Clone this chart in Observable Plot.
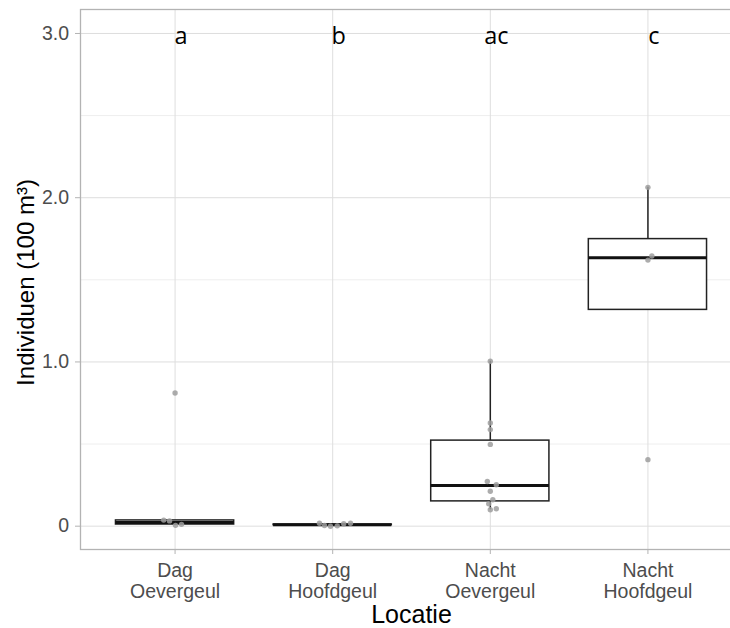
<!DOCTYPE html>
<html><head><meta charset="utf-8">
<script src="https://cdn.jsdelivr.net/npm/d3@7"></script>
<script src="https://cdn.jsdelivr.net/npm/@observablehq/plot@0.6"></script>
<style>html,body{margin:0;padding:0;overflow:hidden;background:#fff} svg{max-width:none !important;}</style>
</head><body><div id="chart"></div>
<script>
// Categories (x axis)
const categories = ["Dag\nOevergeul", "Dag\nHoofdgeul", "Nacht\nOevergeul", "Nacht\nHoofdgeul"];
// Significance letters
const letters = ["a", "b", "ac", "c"];
const letterY = 3.0;
// Box summary per category
const q1 = [0.010, 0.006, 0.151, 1.317];
const median = [0.022, 0.008, 0.248, 1.634];
const q3 = [0.035, 0.010, 0.521, 1.748];
const whiskerLow = [0.005, 0.006, 0.100, 1.317];
const whiskerHigh = [0.035, 0.010, 1.004, 2.063];
// Individual observations (jittered in original)
const pointGroup = [1,1,1,1,1, 2,2,2,2,2,2, 3,3,3,3,3,3,3,3,3,3,3, 4,4,4,4];
const pointValue = [0.811,0.037,0.032,0.005,0.011,
  0.018,0.004,0.000,0.002,0.015,0.018,
  1.004,0.628,0.588,0.498,0.272,0.252,0.213,0.161,0.136,0.100,0.106,
  2.063,1.645,1.620,0.405];
const pointJitter = [0,-0.072,-0.035,0.003,0.041,
  -0.084,-0.052,-0.014,0.029,0.070,0.113,
  0,0,0,0,-0.019,0.038,0,0.016,-0.010,0,0.038,
  0,0.025,0,0];
const yTicks = [0, 1, 2, 3];
const yMinor = [0.5, 1.5, 2.5];
const xTitle = "Locatie";
const yTitle = "Individuen (100 m³)";

const idx = categories.map((_, i) => i);
const pts = pointValue.map((v, i) => ({x: pointGroup[i] + pointJitter[i], y: v}));
const half = 0.375;

const chart = Plot.plot({
  width: 742,
  height: 628,
  marginLeft: 80,
  marginRight: 0,
  marginTop: 9,
  marginBottom: 79,
  style: {fontFamily: "Liberation Sans, Arial, sans-serif", background: "white", maxWidth: "none"},
  x: {domain: [0.4, 4.6]},
  y: {domain: [-0.142, 3.146]},
  marks: [
    Plot.gridY(yMinor, {stroke: "#eeeeee", strokeOpacity: 1, strokeWidth: 1}),
    Plot.gridY(yTicks, {stroke: "#dedede", strokeOpacity: 1, strokeWidth: 1}),
    Plot.gridX([1, 2, 3, 4], {stroke: "#dedede", strokeOpacity: 1, strokeWidth: 1}),
    Plot.ruleX(idx, {x: i => i + 1, y1: i => q3[i], y2: i => whiskerHigh[i], stroke: "#222", strokeWidth: 1.5}),
    Plot.ruleX(idx, {x: i => i + 1, y1: i => q1[i], y2: i => whiskerLow[i], stroke: "#222", strokeWidth: 1.5}),
    Plot.rect(idx, {x1: i => i + 1 - half, x2: i => i + 1 + half, y1: i => q1[i], y2: i => q3[i], fill: "white", stroke: "#222", strokeWidth: 1.5}),
    Plot.ruleY(idx, {y: i => median[i], x1: i => i + 1 - half, x2: i => i + 1 + half, stroke: "#111", strokeWidth: 3}),
    Plot.dot(pts, {x: "x", y: "y", r: 2.7, fill: "#9e9e9e", fillOpacity: 0.85, stroke: "none"}),
    Plot.text(idx, {x: i => i + 1, y: () => letterY, text: i => letters[i], dx: 6, dy: 10.5, lineAnchor: "bottom", textAnchor: "middle", fontSize: 23.5, fontFamily: "Open Sans, sans-serif", fill: "black"}),
    Plot.frame({stroke: "#b3b3b3", strokeWidth: 1.3}),
    Plot.axisY(yTicks, {tickFormat: d => d === 0 ? "0" : d.toFixed(1), tickSize: 5, tickPadding: 6.5, stroke: "#b3b3b3", fill: "#4d4d4d", fontSize: 19.5, label: null}),
    Plot.axisX([1, 2, 3, 4], {tickFormat: d => categories[d - 1], tickSize: 5, tickPadding: 8, stroke: "#b3b3b3", fill: "#4d4d4d", fontSize: 19.5, lineHeight: 1.06, label: null}),
    Plot.text([xTitle], {frameAnchor: "bottom", dy: 73.5, lineAnchor: "bottom", textAnchor: "middle", fontSize: 25, fill: "black"}),
    Plot.text([yTitle], {frameAnchor: "left", rotate: -90, dx: -47, dy: 3, lineAnchor: "bottom", textAnchor: "middle", fontSize: 24, fill: "black"})
  ]
});
chart.style.maxWidth = "none";
document.getElementById("chart").appendChild(chart);
</script>
</body></html>
